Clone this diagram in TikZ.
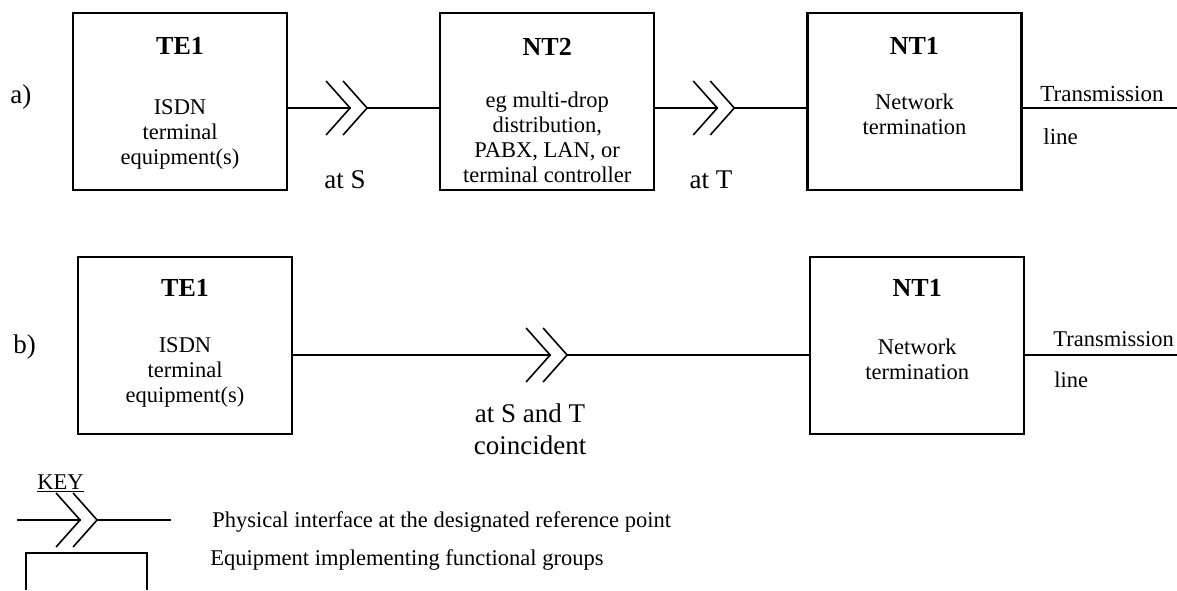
\documentclass[tikz,border=0pt]{standalone}
\usepackage{fontspec}
\setmainfont{Liberation Serif}
\usepackage{tikz}
\usetikzlibrary{positioning,decorations.markings}
\tikzset{
  unit/.style={rectangle, draw, line width=1.1pt, minimum width=107pt, minimum height=88.5pt, inner sep=0pt},
  title/.style={font=\fontsize{13}{15}\selectfont\bfseries, inner sep=0pt, anchor=north},
  desc/.style={font=\fontsize{11.25}{12.5}\selectfont, align=center, inner sep=0pt, anchor=north},
  tag/.style={font=\fontsize{13.5}{16}\selectfont, align=center, inner sep=0pt},
  note/.style={font=\fontsize{11.25}{13}\selectfont, inner sep=0pt, anchor=west},
  wire/.style={note, font=\fontsize{11.5}{13}\selectfont},
  link/.style={line width=1pt},
  iface/.style={link, postaction={decorate}, decoration={markings, mark=at position #1 with {
      \fill[white] (-8.2pt,-0.9pt) rectangle (-0.6pt,0.9pt);
      \draw[line width=0.8pt] (-12pt,13.5pt) -- (0,0) -- (-12pt,-13.5pt);
      \draw[line width=0.8pt] (-20.5pt,13.5pt) -- (-8.5pt,0) -- (-20.5pt,-13.5pt);
  }}},
}

\begin{document}
\begin{tikzpicture}[x=0.5pt, y=0.5pt]
  \useasboundingbox (0,0) rectangle (1177,590);

  % a) with NT2
  \node[unit] (te1a) at (180,488.5) {};
  \node[unit, right=75.5pt of te1a] (nt2) {};
  \node[unit, right=75.5pt of nt2] (nt1a) {};
  \node[title, below=12.75pt of te1a.north] (te1a-t) {TE1};
  \node[title, below=12.75pt of nt2.north] (nt2-t) {NT2};
  \node[title, below=12.75pt of nt1a.north] (nt1a-t) {NT1};
  \node[desc, below=43.5pt of te1a.north] (te1a-d) {ISDN\\terminal\\equipment(s)};
  \node[desc, below=40pt of nt2.north] (nt2-d) {eg multi-drop\\distribution,\\PABX, LAN, or\\terminal controller};
  \node[desc, below=41pt of nt1a.north] (nt1a-d) {Network\\termination};
  \node[tag, anchor=west] (lbl-a) at (10,493) {a)};
  \coordinate (txa) at (1177,482);
  \draw[iface=.523] (te1a.east |- txa) -- (nt2.west |- txa);
  \draw[iface=.523] (nt2.east |- txa) -- (nt1a.west |- txa);
  \draw[link] (nt1a.east |- txa) -- (txa);
  \node[tag] (at-s) at (345,410) {at S};
  \node[tag] (at-t) at (711,410) {at T};
  \node[wire] (tx-a1) at (1040,496) {Transmission};
  \node[wire] (tx-a2) at (1043,453) {line};

  % b) S and T coincident
  \node[unit] (te1b) at (185,244.5) {};
  \node[unit, right=258pt of te1b] (nt1b) {};
  \node[title, below=11.75pt of te1b.north] (te1b-t) {TE1};
  \node[title, below=11.75pt of nt1b.north] (nt1b-t) {NT1};
  \node[desc, below=40.5pt of te1b.north] (te1b-d) {ISDN\\terminal\\equipment(s)};
  \node[desc, below=41.5pt of nt1b.north] (nt1b-d) {Network\\termination};
  \node[tag, anchor=west] (lbl-b) at (13,243) {b)};
  \coordinate (txb) at (1177,235);
  \draw[iface=.531] (te1b.east |- txb) -- (nt1b.west |- txb);
  \draw[link] (nt1b.east |- txb) -- (txb);
  \node[tag] (at-st) at (530,161) {at S and T\\coincident};
  \node[note] (tx-b1) at (1053,251) {Transmission};
  \node[note] (tx-b2) at (1054,210) {line};

  % key
  \node[note, anchor=base west] (key) at (37,101) {\underline{KEY}};
  \coordinate (k1) at (17,70);
  \coordinate (k2) at (171,70);
  \draw[iface=.52] (k1) -- (k2);
  \node[note] (key-if) at (212,68) {Physical interface at the designated reference point};
  \draw[line width=1.1pt] (26,0) |- (147,37) -- (147,0);
  \node[note] (key-eq) at (210,30) {Equipment implementing functional groups};
\end{tikzpicture}
\end{document}
